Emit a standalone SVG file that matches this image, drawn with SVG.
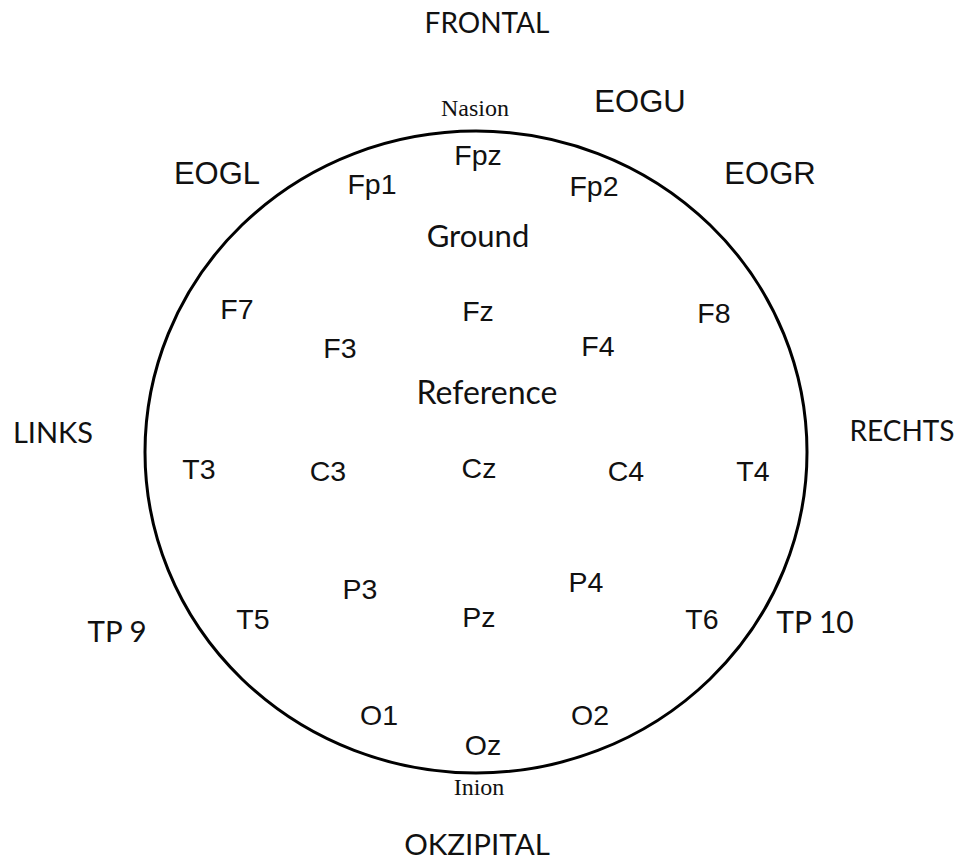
<svg xmlns="http://www.w3.org/2000/svg" width="960" height="861" viewBox="0 0 960 861">
<style>
.e{font-family:"Liberation Sans",Arial,sans-serif;font-size:28.5px;fill:#111;text-anchor:middle}
.g{font-family:"Liberation Sans",Arial,sans-serif;font-size:31px;fill:#111;text-anchor:middle}
.c{font-family:Lato,"Open Sans",sans-serif;font-size:28px;fill:#111;text-anchor:middle}
.s{font-family:"Liberation Serif","Times New Roman",serif;font-size:24px;fill:#111;text-anchor:middle}
</style>
<rect width="960" height="861" fill="#fff"/>
<g id="head"><ellipse cx="476" cy="452" rx="331" ry="321" fill="none" stroke="#000" stroke-width="3"/></g>
<g id="labels">
<text class="c" x="487" y="33">FRONTAL</text>
<text class="s" x="475" y="116">Nasion</text>
<text class="g" x="640" y="112">EOGU</text>
<text class="g" x="217" y="184">EOGL</text>
<text class="g" x="770" y="184">EOGR</text>
<text class="c" x="478" y="247" style="font-size:31px">Ground</text>
<text class="c" x="487" y="404" style="font-size:32px">Reference</text>
<text class="c" x="53" y="443" style="font-size:29px">LINKS</text>
<text class="c" x="902" y="441">RECHTS</text>
<text class="c" x="117" y="642" style="font-size:29.5px">TP 9</text>
<text class="c" x="815" y="633" style="font-size:30px">TP 10</text>
<text class="s" x="479" y="795">Inion</text>
<text class="c" x="477" y="855" style="font-size:29.5px">OKZIPITAL</text>
</g>
<g id="electrodes">
<text class="e" x="478" y="165">Fpz</text>
<text class="e" x="372" y="194">Fp1</text>
<text class="e" x="594" y="196">Fp2</text>
<text class="e" x="237" y="319">F7</text>
<text class="e" x="478" y="321">Fz</text>
<text class="e" x="714" y="323">F8</text>
<text class="e" x="340" y="358">F3</text>
<text class="e" x="598" y="356">F4</text>
<text class="e" x="199" y="479">T3</text>
<text class="e" x="328" y="481">C3</text>
<text class="e" x="479" y="478">Cz</text>
<text class="e" x="626" y="481">C4</text>
<text class="e" x="753" y="481">T4</text>
<text class="e" x="360" y="599">P3</text>
<text class="e" x="586" y="592">P4</text>
<text class="e" x="479" y="627">Pz</text>
<text class="e" x="253" y="629">T5</text>
<text class="e" x="702" y="629">T6</text>
<text class="e" x="379" y="725">O1</text>
<text class="e" x="590" y="725">O2</text>
<text class="e" x="483" y="755">Oz</text>
</g>
</svg>
